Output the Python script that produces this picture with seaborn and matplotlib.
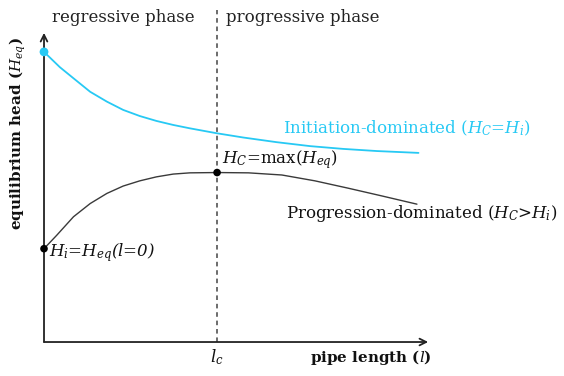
import matplotlib
matplotlib.use("Agg")
import matplotlib.pyplot as plt
import seaborn as sns
import pandas as pd

sns.set_theme(style="white")
plt.rcParams['font.family'] = ['DejaVu Serif']
plt.rcParams['mathtext.fontset'] = 'dejavuserif'

# Data (normalized units: x 0..10 pipe length, y 0..10 head)
init_x = [0.0, 0.41, 0.76, 1.19, 1.62, 2.04, 2.47, 2.90, 3.33, 3.76, 4.45, 5.14, 5.99, 6.86, 7.71, 8.58, 9.65]
init_y = [9.45, 8.95, 8.59, 8.15, 7.83, 7.56, 7.36, 7.20, 7.07, 6.96, 6.80, 6.66, 6.51, 6.38, 6.29, 6.22, 6.16]
prog_x = [0.0, 0.33, 0.76, 1.19, 1.62, 2.04, 2.47, 2.90, 3.33, 3.76, 4.46, 5.27, 6.13, 6.98, 7.84, 8.70, 9.61]
prog_y = [3.04, 3.48, 4.08, 4.51, 4.84, 5.08, 5.25, 5.38, 5.47, 5.51, 5.52, 5.51, 5.44, 5.25, 5.01, 4.76, 4.49]
l_c = 4.46
H_c = 5.52
H_i_prog = 3.04
H_i_init = 9.45

CYAN = "#27c9f4"
DARK = "#3a3a3a"

fig = plt.figure(figsize=(5.64, 3.76), dpi=100)
ax = fig.add_axes([0, 0, 1, 1])
ax.set_xlim(-1.134, 13.40)
ax.set_ylim(-1.107, 11.14)
ax.axis("off")

df_i = pd.DataFrame({"x": init_x, "y": init_y})
df_p = pd.DataFrame({"x": prog_x, "y": prog_y})
sns.lineplot(data=df_i, x="x", y="y", ax=ax, color=CYAN, linewidth=1.3, sort=False)
sns.lineplot(data=df_p, x="x", y="y", ax=ax, color=DARK, linewidth=1.0, sort=False)

# axes arrows
ax.annotate("", xy=(0, 10.07), xytext=(0, 0),
            arrowprops=dict(arrowstyle="->", color="#222222", lw=1.3, shrinkA=0, shrinkB=0))
ax.annotate("", xy=(9.9, 0), xytext=(0, 0),
            arrowprops=dict(arrowstyle="->", color="#222222", lw=1.3, shrinkA=0, shrinkB=0))

# dashed phase divider
ax.plot([l_c, l_c], [0, 10.8], linestyle=(0, (3, 2.5)), color="#444444", lw=1.1)

# points
sns.scatterplot(x=[0], y=[H_i_init], ax=ax, color=CYAN, s=40, edgecolor="none", zorder=5)
sns.scatterplot(x=[0, l_c], y=[H_i_prog, H_c], ax=ax, color="black", s=30, edgecolor="none", zorder=5)

fs = 12
ax.text(2.04, 10.58, "regressive phase", ha="center", va="center", fontsize=fs, color="#222222")
ax.text(4.69, 10.58, "progressive phase", ha="left", va="center", fontsize=fs, color="#222222")
ax.text(6.16, 6.96, r"Initiation-dominated ($H_C$=$H_i$)", ha="left", va="center",
        fontsize=fs, color=CYAN)
ax.text(4.59, 5.93, r"$H_C$=max($H_{eq}$)", ha="left", va="center", fontsize=fs, color="#111111")
ax.text(6.24, 4.17, r"Progression-dominated ($H_C$>$H_i$)", ha="left", va="center",
        fontsize=fs, color="#111111")
ax.text(0.12, 2.9, r"$H_i$=$H_{eq}$($l$=0)", ha="left", va="center", fontsize=fs,
        color="#111111", style="italic")
ax.text(l_c, -0.5, r"$l_c$", ha="center", va="center", fontsize=fs, color="#111111")
ax.text(9.98, -0.5, r"pipe length ($l$)", ha="right", va="center", fontsize=10.9,
        color="#111111", fontweight="bold")
ax.text(-0.68, 6.8, r"equilibrium head ($H_{eq}$)", ha="center", va="center", rotation=90,
        fontsize=10.9, color="#111111", fontweight="bold")

fig.savefig("out.png", dpi=100)
